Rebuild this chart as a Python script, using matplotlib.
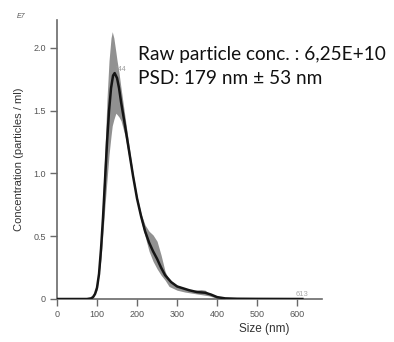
import numpy as np
import matplotlib
matplotlib.use("Agg")
import matplotlib.pyplot as plt

# Particle size distribution (mean curve) in units of 1e7 particles/ml
size_nm = [0, 50, 75, 85, 90, 95, 100, 105, 110, 115, 120, 125, 130, 135, 140, 144,
           150, 155, 160, 170, 180, 190, 200, 210, 220, 230, 240, 250, 260, 270,
           285, 300, 330, 350, 370, 385, 400, 420, 450, 500, 613]
conc_mean = [0, 0, 0.0, 0.005, 0.015, 0.04, 0.09, 0.2, 0.4, 0.65, 0.95, 1.25, 1.5,
             1.68, 1.78, 1.80, 1.76, 1.68, 1.57, 1.38, 1.18, 0.98, 0.80, 0.66, 0.54,
             0.45, 0.38, 0.32, 0.25, 0.19, 0.135, 0.10, 0.07, 0.055, 0.05, 0.035,
             0.015, 0.005, 0.002, 0.001, 0.0]

# Error band (±1 SD) boundaries
band_size = [80, 90, 100, 110, 120, 125, 130, 135, 138, 142, 147, 150, 155, 160, 170,
             180, 190, 200, 210, 220, 230, 240, 250, 260, 270, 280, 300, 320, 340,
             360, 370, 380, 400, 420]
band_upper = [0.0, 0.02, 0.11, 0.5, 1.2, 1.6, 1.9, 2.08, 2.13, 2.08, 1.97, 1.9, 1.8,
              1.68, 1.45, 1.22, 1.0, 0.82, 0.68, 0.59, 0.54, 0.51, 0.46, 0.35, 0.22,
              0.15, 0.11, 0.085, 0.07, 0.075, 0.07, 0.045, 0.015, 0.003]
band_lower = [0.0, 0.01, 0.07, 0.32, 0.75, 0.95, 1.15, 1.3, 1.38, 1.43, 1.48, 1.47,
              1.45, 1.42, 1.3, 1.12, 0.95, 0.77, 0.62, 0.5, 0.38, 0.3, 0.24, 0.19,
              0.15, 0.1, 0.07, 0.055, 0.045, 0.035, 0.03, 0.025, 0.005, 0.0]

x_ticks = [0, 100, 200, 300, 400, 500, 600]
y_ticks = [0, 0.5, 1.0, 1.5, 2.0]
y_tick_labels = ["0", "0.5", "1.0", "1.5", "2.0"]

peak_label = "144"
end_label = "613"
info_lines = ["Raw particle conc. : 6,25E+10", "PSD: 179 nm \u00b1 53 nm"]

plt.rcParams["font.family"] = ["Liberation Sans", "DejaVu Sans"]

fig = plt.figure(figsize=(3.94, 3.42), dpi=100)
ax = fig.add_axes([57 / 394, 1 - 299 / 342, (322 - 57) / 394, (299 - 20) / 342])

ax.fill_between(band_size, band_lower, band_upper, color="#858585", alpha=0.9,
                linewidth=0, zorder=2)
ax.plot(size_nm, conc_mean, color="#151515", linewidth=1.8, zorder=3)

ax.set_xlim(0, 662)
ax.set_ylim(0, 2.223)
ax.set_xticks(x_ticks)
ax.set_yticks(y_ticks)
ax.set_yticklabels(y_tick_labels)

for side in ("top", "right"):
    ax.spines[side].set_visible(False)
for side in ("left", "bottom"):
    ax.spines[side].set_color("#6a6a6a")
    ax.spines[side].set_linewidth(1.2)
ax.tick_params(axis="both", direction="out", length=5, width=1, color="#6a6a6a",
               labelsize=6.5, labelcolor="#555555", pad=3)

# x label sits to the right of the axis centre
ax.set_xlabel("Size (nm)", fontsize=8.5, color="#333333", labelpad=3)
ax.xaxis.set_label_coords((264 - 57) / (322 - 57), -0.085)
ax.set_ylabel("Concentration (particles / ml)", fontsize=8, color="#333333",
              labelpad=7)

fig.text(17 / 394, 1 - 17 / 342, "E7", fontsize=5, color="#555555",
         ha="left", va="center", style="italic")

ax.text(144, 1.80, peak_label, fontsize=5, color="#999999", ha="left",
        va="bottom")
ax.text(613, 0.01, end_label, fontsize=5.5, color="#aaaaaa", ha="center",
        va="bottom")

fig.text(138 / 394, 1 - 60 / 342, info_lines[0], fontsize=13.7,
         family=["Lato", "DejaVu Sans"], color="#111111", ha="left", va="baseline")
fig.text(138 / 394, 1 - 84 / 342, info_lines[1], fontsize=13.7,
         family=["Lato", "DejaVu Sans"], color="#111111", ha="left", va="baseline")

fig.savefig("out.png", dpi=100, facecolor="white")
